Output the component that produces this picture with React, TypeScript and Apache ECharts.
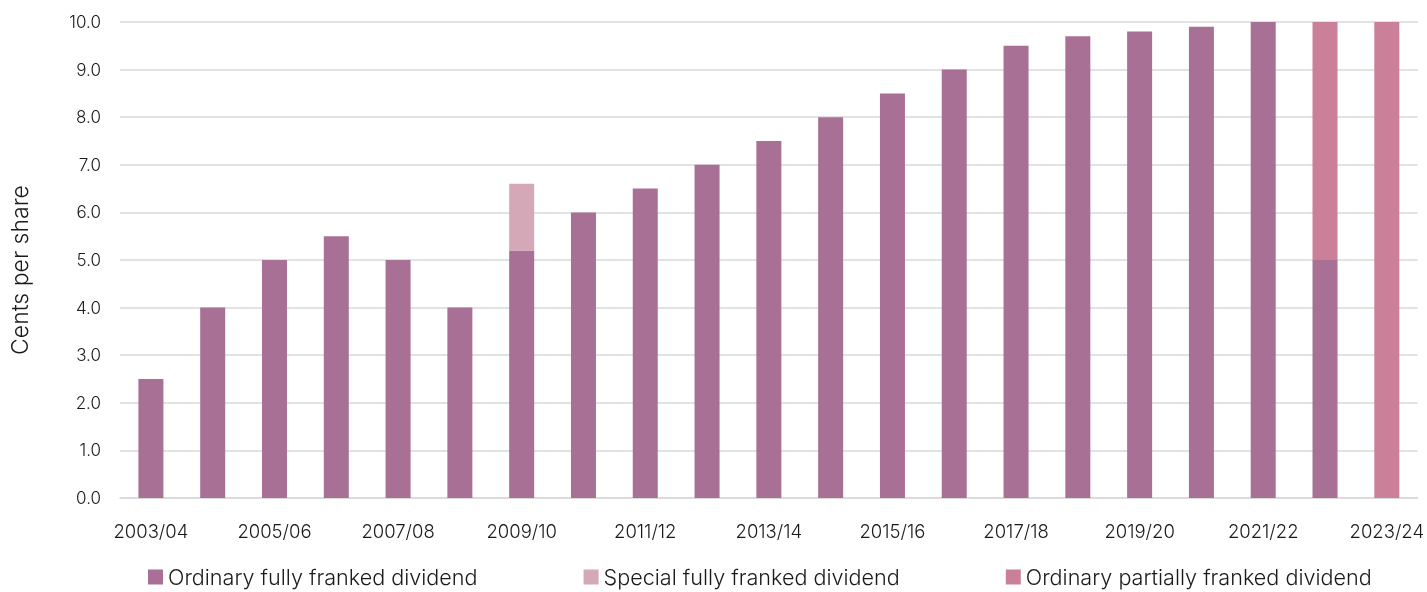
import React, { useEffect, useRef } from "react";
import * as echarts from "echarts";

const categories = [
  "2003/04", "2004/05", "2005/06", "2006/07", "2007/08", "2008/09", "2009/10",
  "2010/11", "2011/12", "2012/13", "2013/14", "2014/15", "2015/16", "2016/17",
  "2017/18", "2018/19", "2019/20", "2020/21", "2021/22", "2022/23", "2023/24",
];
const ordinaryFully = [2.5, 4.0, 5.0, 5.5, 5.0, 4.0, 5.2, 6.0, 6.5, 7.0, 7.5, 8.0, 8.5, 9.0, 9.5, 9.7, 9.8, 9.9, 10.0, 5.0, 0];
const specialFully = [0, 0, 0, 0, 0, 0, 1.4, 0, 0, 0, 0, 0, 0, 0, 0, 0, 0, 0, 0, 0, 0];
const ordinaryPartially = [0, 0, 0, 0, 0, 0, 0, 0, 0, 0, 0, 0, 0, 0, 0, 0, 0, 0, 0, 5.0, 10.0];
const seriesNames = ["Ordinary fully franked dividend", "Special fully franked dividend", "Ordinary partially franked dividend"];
const colors = ["#A87094", "#D4A8B7", "#C98098"];

const FONT = "Inter, 'Noto Sans', sans-serif";

export default function App() {
  const ref = useRef<HTMLDivElement>(null);
  useEffect(() => {
    if (!ref.current) return;
    const chart = echarts.init(ref.current, null, { renderer: "svg" });
    const data = [ordinaryFully, specialFully, ordinaryPartially];
    chart.setOption({
      animation: false,
      textStyle: { fontFamily: FONT },
      grid: { left: 118, right: 9, top: 22, bottom: 94, containLabel: false },
      legend: {
        left: 143,
        bottom: -1,
        itemWidth: 15,
        itemHeight: 15,
        itemGap: 106,
        icon: "rect",
        textStyle: { fontSize: 21.6, color: "#1a1a1a", fontFamily: FONT, fontWeight: 300 },
        data: seriesNames,
      },
      xAxis: {
        type: "category",
        data: categories,
        axisLine: { lineStyle: { color: "#d9d9d9", width: 1.5 } },
        axisTick: { show: false },
        axisLabel: { interval: 1, fontSize: 18.5, color: "#1a1a1a", margin: 23, fontFamily: FONT, fontWeight: 300 },
      },
      yAxis: {
        type: "value",
        min: 0,
        max: 10,
        interval: 1,
        name: "Cents per share",
        nameLocation: "middle",
        nameGap: 89,
        nameTextStyle: { fontSize: 23, color: "#1a1a1a", fontFamily: FONT, fontWeight: 300, padding: [0, 20, 0, 0] },
        axisLine: { show: false },
        axisTick: { show: false },
        splitLine: { lineStyle: { color: "#d9d9d9", width: 1.5 } },
        axisLabel: {
          formatter: (v: number) => v.toFixed(1),
          fontSize: 17,
          color: "#1a1a1a",
          margin: 19,
          fontFamily: FONT,
          fontWeight: 300,
        },
      },
      series: data.map((d, i) => ({
        name: seriesNames[i],
        type: "bar",
        stack: "total",
        barWidth: 25,
        data: d,
        itemStyle: { color: colors[i] },
      })),
    });
    return () => chart.dispose();
  }, []);
  return <div ref={ref} style={{ position: "fixed", left: 0, top: 0, width: 1427, height: 592 }} />;
}
